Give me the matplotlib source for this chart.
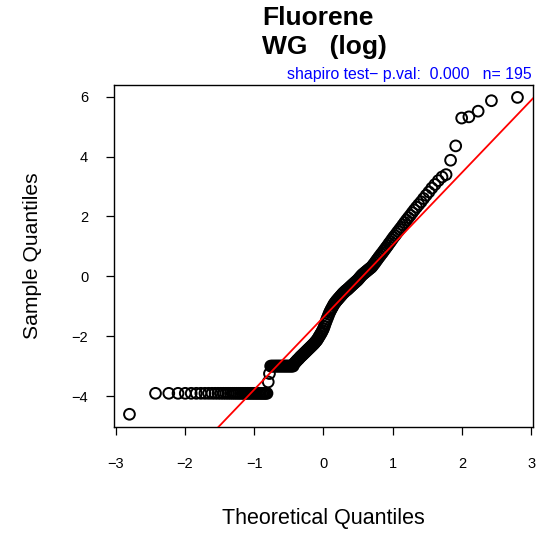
import statistics
import numpy as np
import matplotlib
matplotlib.use('Agg')
import matplotlib.pyplot as plt

plt.rcParams['font.family'] = ['Liberation Sans', 'DejaVu Sans']

title_lines = ["Fluorene", "WG   (log)"]
subtitle = "shapiro test\u2212 p.val:  0.000   n= 195"
xlabel = "Theoretical Quantiles"
ylabel = "Sample Quantiles"

# sorted sample values (log concentration)
low_tail = [-4.61] + [-3.91] * 40 + [-3.53, -3.25] + [-3.00] * 22
upper_part = [
    -2.92, -2.88, -2.85, -2.81, -2.78, -2.75, -2.71, -2.68, -2.65, -2.62,
    -2.59, -2.56, -2.53, -2.50, -2.47, -2.44, -2.41, -2.38, -2.35, -2.32,
    -2.29, -2.26, -2.23, -2.19, -2.16, -2.12, -2.07, -2.02, -1.97, -1.92,
    -1.87, -1.81, -1.75, -1.67, -1.58, -1.50, -1.42, -1.35, -1.27, -1.20,
    -1.14, -1.08, -1.03, -0.97, -0.92, -0.88, -0.84, -0.80, -0.77, -0.73,
    -0.70, -0.66, -0.63, -0.59, -0.56, -0.53, -0.50, -0.47, -0.45, -0.42,
    -0.39, -0.36, -0.33, -0.30, -0.27, -0.24, -0.21, -0.18, -0.15, -0.12,
    -0.08, -0.04, 0.00, 0.04, 0.07, 0.10, 0.13, 0.16, 0.19, 0.22,
    0.25, 0.28, 0.31, 0.36, 0.41, 0.46, 0.52, 0.57, 0.63, 0.68,
    0.74, 0.79, 0.85, 0.91, 0.97, 1.03, 1.10, 1.16, 1.23, 1.30,
    1.36, 1.43, 1.50, 1.57, 1.64, 1.72, 1.80, 1.88, 1.96, 2.04,
    2.13, 2.22, 2.31, 2.40, 2.49, 2.60, 2.71, 2.82, 2.95, 3.07,
    3.20, 3.32, 3.40, 3.88, 4.36, 5.29, 5.33, 5.52, 5.87, 5.98,
]
sample = np.array(low_tail + upper_part)
n = len(sample)

xticks = [-3, -2, -1, 0, 1, 2, 3]
yticks = [-4, -2, 0, 2, 4, 6]

# theoretical quantiles like R's qqnorm (ppoints, a = 0.5)
nd = statistics.NormalDist()
theo = np.array([nd.inv_cdf((i - 0.5) / n) for i in range(1, n + 1)])

# qqline through the quartiles
yq = np.quantile(sample, [0.25, 0.75])
xq = np.array([nd.inv_cdf(0.25), nd.inv_cdf(0.75)])
slope = (yq[1] - yq[0]) / (xq[1] - xq[0])
intercept = yq[0] - slope * xq[0]

fig = plt.figure(figsize=(5.4, 5.33), dpi=100)
ax = fig.add_axes([0.211, 0.199, 0.776, 0.642])

ax.scatter(theo, sample, s=60, facecolors='none', edgecolors='black', linewidths=1.4, zorder=2)
ax.axline((0, intercept), slope=slope, color='red', lw=1.3, zorder=3)

xr = theo.max() - theo.min()
yr = sample.max() - sample.min()
ax.set_xlim(theo.min() - 0.04 * xr, theo.max() + 0.04 * xr)
ax.set_ylim(sample.min() - 0.04 * yr, sample.max() + 0.04 * yr)

ax.set_xticks(xticks)
ax.set_yticks(yticks)
ax.tick_params(direction='out', length=5.5, width=0.9, labelsize=10.5, pad=16)
ax.tick_params(axis='y', pad=13)
for s in ax.spines.values():
    s.set_linewidth(1.0)

ax.set_xlabel(xlabel, fontsize=15.5, labelpad=27)
ax.set_ylabel(ylabel, fontsize=15.2, labelpad=21)

fig.text(262 / 540, 1 - 18 / 533, title_lines[0], fontsize=19, fontweight='bold', ha='left', va='center')
fig.text(262 / 540, 1 - 47 / 533, title_lines[1], fontsize=19, fontweight='bold', ha='left', va='center')
fig.text(532 / 540, 1 - 74 / 533, subtitle, fontsize=11.4, color='blue', ha='right', va='center')

fig.savefig('out.png', dpi=100)
